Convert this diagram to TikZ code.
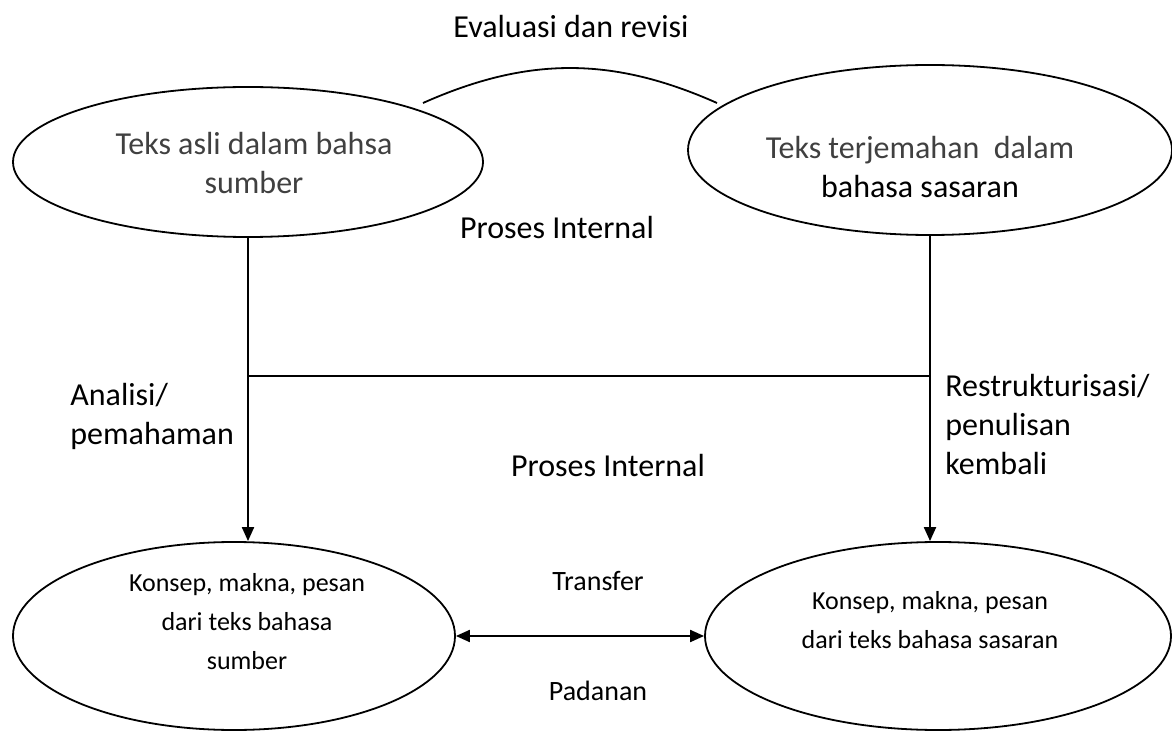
\documentclass[tikz,border=0pt]{standalone}
\usepackage{fontspec}
\setmainfont{Carlito}
\usetikzlibrary{shapes.geometric, arrows.meta, positioning, calc}
\definecolor{textGray}{RGB}{64,64,64}

\begin{document}
\begin{tikzpicture}[
      x=0.5pt, y=-0.5pt,
      oval/.style={draw, ellipse, line width=0.9pt, inner sep=0pt},
      txt/.style={align=center, inner sep=0pt, font=\fontsize{16}{19.5}\selectfont},
      small/.style={txt, font=\fontsize{13}{19.5}\selectfont},
      mid/.style={txt, font=\fontsize{14}{19.5}\selectfont},
      side/.style={txt, align=left, anchor=west},
      arr/.style={-{Triangle[length=7pt, width=6pt]}, line width=1pt},
      dbl/.style={{Triangle[length=7pt, width=6pt]}-{Triangle[length=7pt, width=6pt]}, line width=1pt}
    ]
      \useasboundingbox (0,0) rectangle (1172,732);
      % ellipses
      \node[oval, minimum width=235pt, minimum height=75pt] (src) at (248,162) {};
      \node[oval, minimum width=242pt, minimum height=85pt] (tgt) at (930,150) {};
      \node[oval, minimum width=221pt, minimum height=94pt] (srcm) at (234,636) {};
      \node[oval, minimum width=233pt, minimum height=94pt] (tgtm) at (938,636) {};
      % texts in ellipses
      \node[txt, text=textGray] (srct) at (254,163) {Teks asli dalam bahsa\\sumber};
      \node[txt] (tgtt) at (920,167) {\textcolor{textGray}{Teks terjemahan~ dalam}\\bahasa sasaran};
      \node[small] (srcmt) at (247,622) {Konsep, makna, pesan\\dari teks bahasa\\sumber};
      \node[small] (tgtmt) at (930,620) {Konsep, makna, pesan\\dari teks bahasa sasaran};
      % labels
      \node[txt] (eval) at (571,27) {Evaluasi dan revisi};
      \node[txt] (pi1) at (557,228) {Proses Internal};
      \node[txt] (pi2) at (608,466) {Proses Internal};
      \node[side] (anl) at (70,416) {Analisi/\\pemahaman};
      \node[side] (res) at (945,425) {Restrukturisasi/\\penulisan\\kembali};
      \node[mid] (trf) at (598,581) {Transfer};
      \node[mid] (pdn) at (598,691) {Padanan};
      % connectors
      \coordinate (arcl) at (423,103);
      \coordinate (arcr) at (717,103);
      \coordinate (hl) at (src.south |- 0,376);
      \coordinate (hr) at (tgt.south |- 0,376);
      \draw[line width=0.9pt] (arcl) to[bend left=24] (arcr);
      \draw[arr] (src.south) -- (src.south |- srcm.north);
      \draw[arr] (tgt.south) -- (tgt.south |- tgtm.north);
      \draw[line width=0.7pt] (hl) -- (hr);
      \draw[dbl] (srcm.east) -- (tgtm.west);
    \end{tikzpicture}
\end{document}
